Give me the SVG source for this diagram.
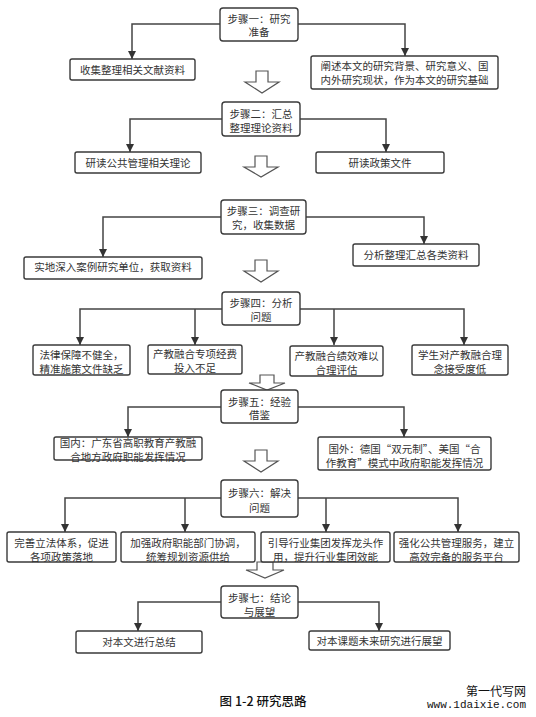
<svg xmlns="http://www.w3.org/2000/svg" width="536" height="717" viewBox="0 0 536 717">
<style>
.bg{fill:#ffffff}
.box{fill:#ffffff;stroke:#3a3a3a;stroke-width:1.4}
.t{font-family:"Noto Sans CJK SC","Liberation Sans",sans-serif;font-size:10.5px;fill:#333333;text-anchor:middle}
.con{fill:none;stroke:#444444;stroke-width:1.5}
.hol{fill:#ffffff;stroke:#555555;stroke-width:1.2}
.cap{font-family:"Noto Sans CJK SC","Liberation Sans",sans-serif;font-size:12.5px;fill:#111111;text-anchor:middle;font-weight:500}
.wm{font-family:"Noto Sans CJK SC","Liberation Sans",sans-serif;font-size:12px;fill:#111111;text-anchor:end}
.wm2{font-family:"Liberation Mono","DejaVu Sans Mono",monospace;font-size:11px;fill:#111111;text-anchor:end}
</style>
<defs>
<marker id="ah" markerUnits="userSpaceOnUse" markerWidth="8" markerHeight="8" refX="8" refY="4" orient="auto">
<path d="M0,0 L8,4 L0,8 Z" fill="#333333"/>
</marker>
</defs>
<rect class="bg" x="0" y="0" width="536" height="717"/>

<g id="connectors">
<path class="con" d="M220,24 H132 V59" marker-end="url(#ah)"/>
<path class="con" d="M298,24 H405 V56" marker-end="url(#ah)"/>
<path class="con" d="M222,119 H130 V152" marker-end="url(#ah)"/>
<path class="con" d="M300,119 H386 V152" marker-end="url(#ah)"/>
<path class="con" d="M221,217 H103 V257" marker-end="url(#ah)"/>
<path class="con" d="M306,217 H424 V244" marker-end="url(#ah)"/>
<path class="con" d="M222,309 H80 V345" marker-end="url(#ah)"/>
<path class="con" d="M195,309 V345" marker-end="url(#ah)"/>
<path class="con" d="M300,309 H464 V345" marker-end="url(#ah)"/>
<path class="con" d="M334,309 V345" marker-end="url(#ah)"/>
<path class="con" d="M221,407 H128 V437" marker-end="url(#ah)"/>
<path class="con" d="M298,407 H404 V437" marker-end="url(#ah)"/>
<path class="con" d="M221,498 H65 V532" marker-end="url(#ah)"/>
<path class="con" d="M185,498 V532" marker-end="url(#ah)"/>
<path class="con" d="M298,498 H458 V532" marker-end="url(#ah)"/>
<path class="con" d="M326,498 V532" marker-end="url(#ah)"/>
<path class="con" d="M221,602 H138 V631" marker-end="url(#ah)"/>
<path class="con" d="M298,602 H379 V631" marker-end="url(#ah)"/>
<path class="hol" d="M256,71 H268 V82 H279 L262,93 L245,82 H256 Z"/>
<path class="hol" d="M255,156 H267 V167 H278 L261,177 L244,167 H255 Z"/>
<path class="hol" d="M255,260 H267 V271 H278 L261,282 L244,271 H255 Z"/>
<path class="hol" d="M260,375 H274 V383 H285 L267,390 L249,383 H260 Z"/>
<path class="hol" d="M255,450 H267 V461 H278 L261,472 L244,461 H255 Z"/>
<path class="hol" d="M257,562 H273 V570 H284 L265,578 L246,570 H257 Z"/>
</g>

<g id="step1"><rect class="box" x="220" y="8" width="78" height="33" rx="3"/><text class="t" x="259" y="22.5">步骤一：研究</text><text class="t" x="259" y="36">准备</text></g>
<g id="n1a"><rect class="box" x="70" y="59" width="125" height="21" rx="2"/><text class="t" x="132.5" y="73.5">收集整理相关文献资料</text></g>
<g id="n1b"><rect class="box" x="311" y="56" width="187" height="33" rx="2"/><text class="t" x="404.5" y="70">阐述本文的研究背景、研究意义、国</text><text class="t" x="404.5" y="84">内外研究现状，作为本文的研究基础</text></g>

<g id="step2"><rect class="box" x="222" y="102" width="78" height="34" rx="3"/><text class="t" x="261" y="118">步骤二：汇总</text><text class="t" x="261" y="132">整理理论资料</text></g>
<g id="n2a"><rect class="box" x="75" y="152" width="126" height="21" rx="2"/><text class="t" x="138" y="166.5">研读公共管理相关理论</text></g>
<g id="n2b"><rect class="box" x="316" y="152" width="128" height="21" rx="2"/><text class="t" x="380" y="166.5">研读政策文件</text></g>

<g id="step3"><rect class="box" x="221" y="200" width="85" height="34" rx="3"/><text class="t" x="263.5" y="215">步骤三：调查研</text><text class="t" x="263.5" y="229">究，收集数据</text></g>
<g id="n3a"><rect class="box" x="24" y="257" width="178" height="22" rx="2"/><text class="t" x="113" y="271">实地深入案例研究单位，获取资料</text></g>
<g id="n3b"><rect class="box" x="353" y="244" width="126" height="22" rx="2"/><text class="t" x="416" y="258.5">分析整理汇总各类资料</text></g>

<g id="step4"><rect class="box" x="222" y="292" width="78" height="33" rx="3"/><text class="t" x="261" y="307">步骤四：分析</text><text class="t" x="261" y="321">问题</text></g>
<g id="n4a"><rect class="box" x="33" y="345" width="97" height="30" rx="2"/><text class="t" x="81.5" y="358.5">法律保障不健全，</text><text class="t" x="81.5" y="372.5">精准施策文件缺乏</text></g>
<g id="n4b"><rect class="box" x="148" y="345" width="94" height="29" rx="2"/><text class="t" x="195" y="358">产教融合专项经费</text><text class="t" x="195" y="372">投入不足</text></g>
<g id="n4c"><rect class="box" x="290" y="346" width="93" height="30" rx="2"/><text class="t" x="336.5" y="359.5">产教融合绩效难以</text><text class="t" x="336.5" y="373.5">合理评估</text></g>
<g id="n4d"><rect class="box" x="412" y="345" width="96" height="30" rx="2"/><text class="t" x="460" y="358.5">学生对产教融合理</text><text class="t" x="460" y="372.5">念接受度低</text></g>

<g id="step5"><rect class="box" x="221" y="390" width="77" height="33" rx="3"/><text class="t" x="259.5" y="405.5">步骤五：经验</text><text class="t" x="259.5" y="419">借鉴</text></g>
<g id="n5a"><rect class="box" x="54" y="437" width="148" height="23" rx="2"/><text class="t" x="128" y="447">国内：广东省高职教育产教融</text><text class="t" x="128" y="461">合地方政府职能发挥情况</text></g>
<g id="n5b"><rect class="box" x="318" y="437" width="173" height="33" rx="2"/><text class="t" x="404.5" y="452.5">国外：德国“双元制”、美国“合</text><text class="t" x="404.5" y="466.5">作教育”模式中政府职能发挥情况</text></g>

<g id="step6"><rect class="box" x="221" y="480" width="77" height="37" rx="3"/><text class="t" x="259.5" y="497">步骤六：解决</text><text class="t" x="259.5" y="511.5">问题</text></g>
<g id="n6a"><rect class="box" x="7" y="532" width="109" height="30" rx="2"/><text class="t" x="61.5" y="546.5">完善立法体系，促进</text><text class="t" x="61.5" y="560.5">各项政策落地</text></g>
<g id="n6b"><rect class="box" x="121" y="532" width="134" height="30" rx="2"/><text class="t" x="188" y="546.5">加强政府职能部门协调，</text><text class="t" x="188" y="560.5">统筹规划资源供给</text></g>
<g id="n6c"><rect class="box" x="261" y="532" width="129" height="30" rx="2"/><text class="t" x="325.5" y="546.5">引导行业集团发挥龙头作</text><text class="t" x="325.5" y="560.5">用，提升行业集团效能</text></g>
<g id="n6d"><rect class="box" x="394" y="532" width="125" height="30" rx="2"/><text class="t" x="456.5" y="546.5">强化公共管理服务，建立</text><text class="t" x="456.5" y="560.5">高效完备的服务平台</text></g>

<g id="step7"><rect class="box" x="221" y="586" width="77" height="32" rx="3"/><text class="t" x="259.5" y="602">步骤七：结论</text><text class="t" x="259.5" y="615.5">与展望</text></g>
<g id="n7a"><rect class="box" x="76" y="631" width="126" height="22" rx="2"/><text class="t" x="139" y="646">对本文进行总结</text></g>
<g id="n7b"><rect class="box" x="309" y="631" width="141" height="19" rx="2"/><text class="t" x="379.5" y="644.5">对本课题未来研究进行展望</text></g>

<text class="cap" x="263" y="706">图 1-2 研究思路</text>
<text class="wm" x="526" y="696">第一代写网</text>
<text class="wm2" x="526" y="708">www.1daixie.com</text>
</svg>
